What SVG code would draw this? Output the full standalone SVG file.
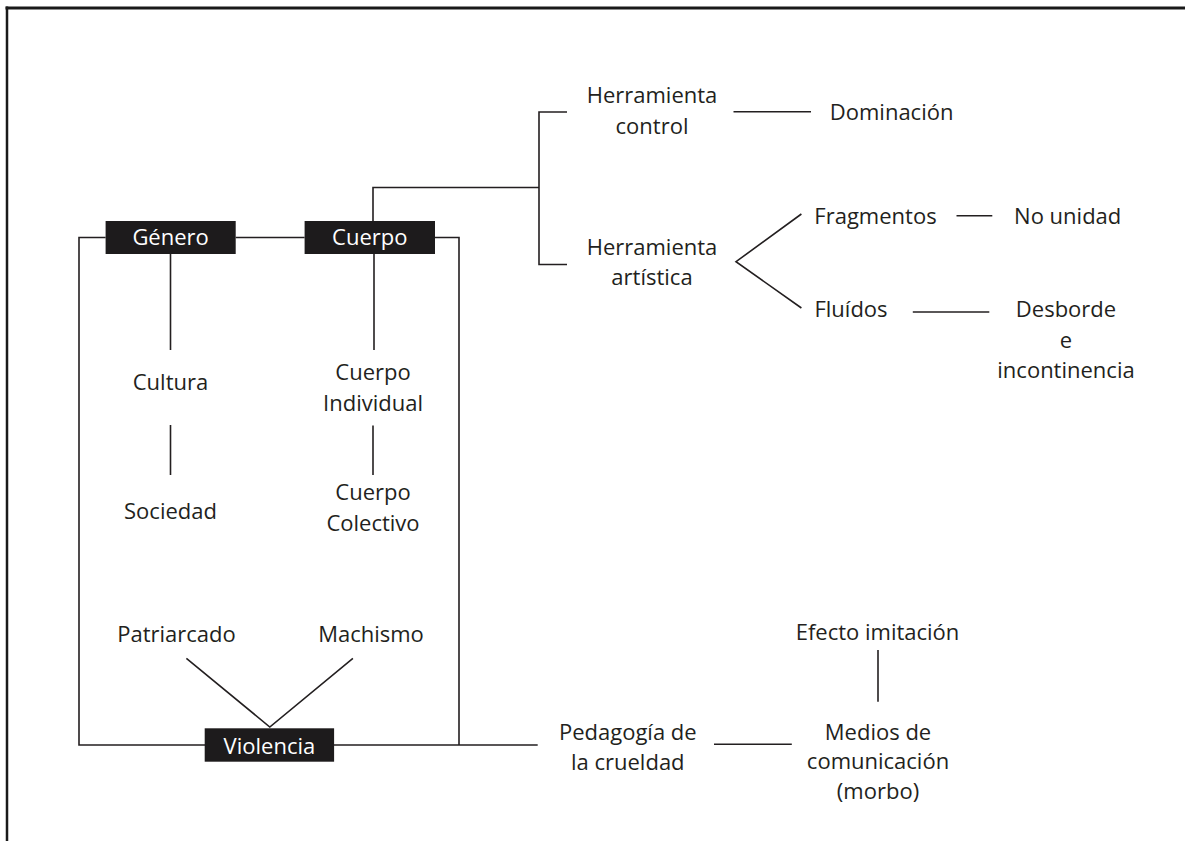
<svg xmlns="http://www.w3.org/2000/svg" width="1185" height="841" viewBox="0 0 1185 841">
<style>
text{font-family:"Open Sans","Liberation Sans",sans-serif;font-size:22px;fill:#231f20;text-anchor:middle}
.box{fill:#1d1b1c}
.bt{fill:#ffffff}
.ln{stroke:#231f20;stroke-width:1.6;fill:none}
</style>
<rect x="0" y="0" width="1185" height="841" fill="#ffffff"/>
<g id="frame">
<line x1="5.5" y1="8" x2="1185" y2="8" stroke="#1a1a1a" stroke-width="3"/>
<line x1="7" y1="6.5" x2="7" y2="841" stroke="#1a1a1a" stroke-width="2.5"/>
</g>
<g id="connectors" class="ln">
<polyline points="105.6,237.5 79,237.5 79,745 537.7,745"/>
<line x1="235.7" y1="237.5" x2="304.6" y2="237.5"/>
<polyline points="435,237.5 459,237.5 459,745"/>
<line x1="170.5" y1="254" x2="170.5" y2="350"/>
<line x1="170.5" y1="425" x2="170.5" y2="475"/>
<line x1="374" y1="254" x2="374" y2="350"/>
<line x1="373" y1="425.5" x2="373" y2="475"/>
<polyline points="373,221 373,187.5 539,187.5"/>
<polyline points="567,112 539,112 539,264.5 567,264.5"/>
<line x1="733.5" y1="111.7" x2="811" y2="111.7"/>
<polyline points="801.4,214 736,261.7 801.4,308"/>
<line x1="956.5" y1="215.7" x2="992.3" y2="215.7"/>
<line x1="912.8" y1="312" x2="989.3" y2="312"/>
<polyline points="186.4,658.3 269.8,727 352.9,658.3"/>
<line x1="714" y1="744.3" x2="791.8" y2="744.3"/>
<line x1="878" y1="650" x2="878" y2="701.7"/>
</g>
<g id="genero"><rect class="box" x="105.6" y="221" width="130.1" height="33"/><text class="bt" x="170.6" y="245">Género</text></g>
<g id="cuerpo"><rect class="box" x="304.6" y="221" width="130.4" height="33"/><text class="bt" x="369.8" y="245">Cuerpo</text></g>
<g id="violencia"><rect class="box" x="204.7" y="728.3" width="129.4" height="33.4"/><text class="bt" x="269.4" y="753.5">Violencia</text></g>
<g id="cultura"><text x="170.5" y="390">Cultura</text></g>
<g id="sociedad"><text x="170.5" y="519">Sociedad</text></g>
<g id="cuerpo-individual"><text x="373" y="380">Cuerpo</text><text x="373" y="410.5">Individual</text></g>
<g id="cuerpo-colectivo"><text x="373" y="500">Cuerpo</text><text x="373" y="530.5">Colectivo</text></g>
<g id="patriarcado"><text x="176.5" y="641.5">Patriarcado</text></g>
<g id="machismo"><text x="371" y="641.5">Machismo</text></g>
<g id="herramienta-control"><text x="652" y="103">Herramienta</text><text x="652" y="133.5">control</text></g>
<g id="dominacion"><text x="891.6" y="120">Dominación</text></g>
<g id="herramienta-artistica"><text x="652" y="254.7">Herramienta</text><text x="652" y="285">artística</text></g>
<g id="fragmentos"><text x="875.5" y="223.5">Fragmentos</text></g>
<g id="no-unidad"><text x="1067.7" y="223.5">No unidad</text></g>
<g id="fluidos"><text x="851" y="317">Fluídos</text></g>
<g id="desborde"><text x="1066" y="317">Desborde</text><text x="1066" y="347.5">e</text><text x="1066" y="378">incontinencia</text></g>
<g id="pedagogia"><text x="627.8" y="740">Pedagogía de</text><text x="627.8" y="769.5">la crueldad</text></g>
<g id="medios"><text x="878" y="739.5">Medios de</text><text x="878" y="769">comunicación</text><text x="878" y="798.5">(morbo)</text></g>
<g id="efecto"><text x="877.5" y="640">Efecto imitación</text></g>
</svg>
